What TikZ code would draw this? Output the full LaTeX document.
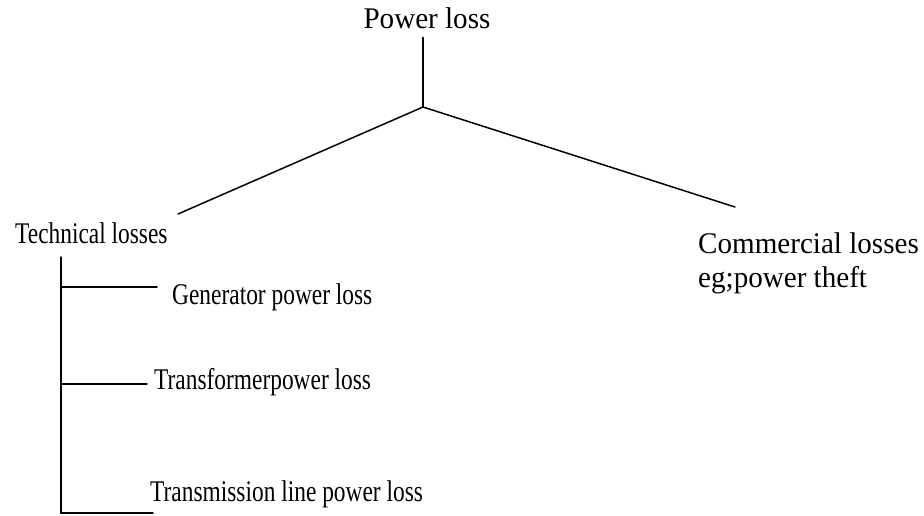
\documentclass[tikz,border=0pt]{standalone}
\usepackage{fontspec}
\setmainfont{Liberation Serif}[FakeStretch=0.78]
\newfontfamily\widefont{Liberation Serif}[FakeStretch=0.97]
\usepackage{tikz}
\usetikzlibrary{calc}

\begin{document}
\begin{tikzpicture}[line cap=round,line join=round,x=1pt,y=-1pt,
  lbl/.style={anchor=base west,inner sep=0pt,font=\fontsize{30}{34}\selectfont},
  widelbl/.style={lbl,font=\fontsize{30}{34}\selectfont\widefont},
  branch/.style={line width=1.5pt,color=black}]
\useasboundingbox (0,0) rectangle (924,515);
% heads
\node[widelbl,anchor=base,inner xsep=0pt,inner ysep=9pt] (power) at (427,28) {Power loss};
\node[lbl] (tech) at (15,243) {Technical losses};
\node[widelbl] (comm) at (698,253) {Commercial losses};
\node[widelbl] (theft) at (698,287) {eg;power theft};
% technical parts
\node[lbl] (gen) at (172,304) {Generator power loss};
\node[lbl] (trf) at (154,389) {Transformerpower loss};
\node[lbl] (trm) at (150,501) {Transmission line power loss};
\coordinate (split) at (423,107);
\coordinate (techend) at (178,214);
\coordinate (commend) at (735,207);
\coordinate (spine) at (61,257);
\coordinate (spineend) at (61,513);
\coordinate (genin) at (157,287);
\coordinate (trfin) at (147,384);
\coordinate (trmin) at (153,513);
\draw[branch] (split |- power.south) -- (split);
\draw[branch] (split) -- (techend);
\draw[branch] (split) -- (commend);
\draw[branch] (spine) -- (spineend);
\draw[branch] (genin -| spine) -- (genin);
\draw[branch] (trfin -| spine) -- (trfin);
\draw[branch] (spineend) -- (trmin);
\end{tikzpicture}
\end{document}
